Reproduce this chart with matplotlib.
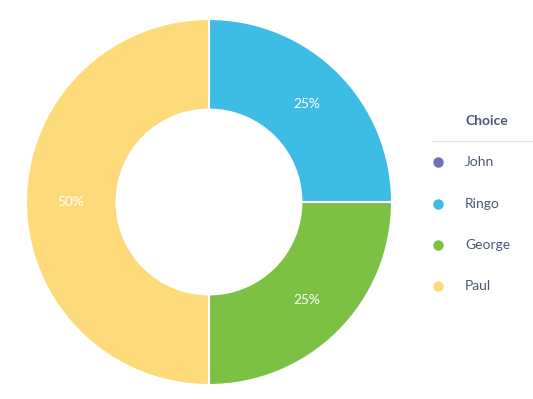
import matplotlib
matplotlib.use("Agg")
import matplotlib.pyplot as plt
from matplotlib.lines import Line2D

plt.rcParams['font.family'] = ['Lato', 'DejaVu Sans']

# data
names = ["John", "Ringo", "George", "Paul"]
values = [0, 25, 25, 50]
colors = ["#6E6FB5", "#3DBCE5", "#7CC143", "#FDDB7A"]
legend_title = "Choice"

W, H = 533, 399
fig = plt.figure(figsize=(W / 100, H / 100), dpi=100)

cx, cy, r = 209, 202, 183
ax = fig.add_axes([(cx - r) / W, (H - cy - r) / H, 2 * r / W, 2 * r / H])

def fmt(p):
    return "%d%%" % round(p) if p > 0 else ""

wedges, texts, autotexts = ax.pie(
    values, colors=colors, startangle=90, counterclock=False,
    autopct=fmt, pctdistance=0.755,
    wedgeprops=dict(width=0.495, edgecolor="white", linewidth=1.5),
    textprops=dict(color="white", fontsize=9.8),
)
ax.set_aspect("equal")
ax.set_xlim(-1.0, 1.0)
ax.set_ylim(-1.0, 1.0)

# legend
text_color = "#4C5773"
fig.text(465 / W, 1 - 121 / H, legend_title, fontsize=10, fontweight="bold",
         color=text_color, va="center", ha="left")
fig.add_artist(Line2D([432 / W, 533 / W], [1 - 141 / H, 1 - 141 / H],
                      color="#E2E4E8", linewidth=1, transform=fig.transFigure))
ys = [162, 204, 245, 286]
for name, col, y in zip(names, colors, ys):
    fig.add_artist(Line2D([438 / W], [1 - y / H], marker="o", markersize=6.5,
                          color=col, linestyle="none", transform=fig.transFigure))
    fig.text(465 / W, 1 - y / H, name, fontsize=10, color=text_color,
             va="center", ha="left")

fig.savefig("out.png", dpi=100)
